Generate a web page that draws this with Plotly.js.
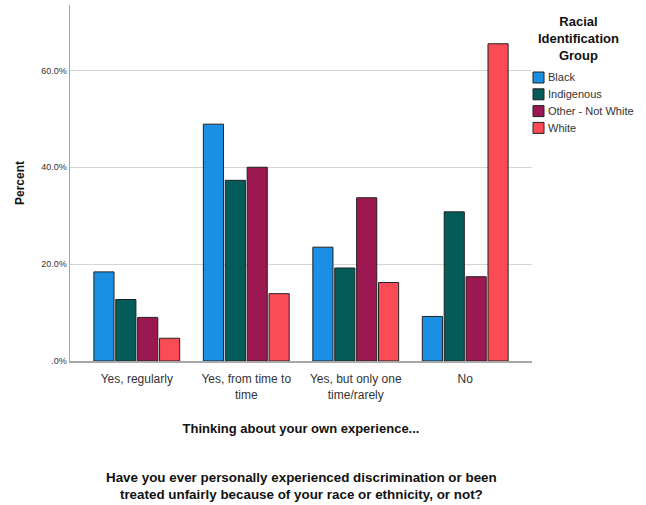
<!DOCTYPE html>
<html><head><meta charset="utf-8">
<script src="https://cdn.plot.ly/plotly-3.0.1.min.js"></script>
<style>html,body{margin:0;padding:0;background:#fff}#chart{width:646px;height:505px}</style>
</head><body><div id="chart"></div>
<script>
const categories = ["Yes, regularly", "Yes, from time to<br>time", "Yes, but only one<br>time/rarely", "No"];
const groups = ["Black", "Indigenous", "Other - Not White", "White"];
const black = [18.4, 48.9, 23.5, 9.2];
const indigenous = [12.7, 37.3, 19.2, 30.8];
const otherNotWhite = [9.0, 40.0, 33.7, 17.4];
const white = [4.7, 13.9, 16.2, 65.5];
const tickVals = [0, 20, 40, 60];
const tickLabels = [".0%", "20.0%", "40.0%", "60.0%"];
const colors = ["#1a8fe3", "#045c5a", "#9c1850", "#fb4c55"];
const series = [black, indigenous, otherNotWhite, white];

const traces = series.map((vals, i) => ({
  type: "bar", name: groups[i], x: categories, y: vals,
  marker: {color: colors[i], line: {color: "#222", width: 1}},
  hoverinfo: "skip", showlegend: false
}));

// manual legend (boxes + labels) placed right of the plot area
const W = 646, H = 505, mL = 70, mR = 114, mT = 5, mB = 144;
const pw = W - mL - mR, ph = H - mT - mB;
const px = x => (x - mL) / pw;
const py = y => (H - mB - y) / ph;
const legendTop = 72, legendStep = 16.8, boxW = 11, boxH = 11, boxX = 533;
const shapes = [], annotations = [];
groups.forEach((g, i) => {
  const y0 = legendTop + i * legendStep;
  shapes.push({type: "rect", xref: "paper", yref: "paper",
    x0: px(boxX), x1: px(boxX + boxW), y0: py(y0 + boxH), y1: py(y0),
    fillcolor: colors[i], line: {color: "#222", width: 1}});
  annotations.push({text: g, xref: "paper", yref: "paper",
    x: px(boxX + boxW + 2), y: py(y0 + boxH / 2), xanchor: "left", yanchor: "middle",
    showarrow: false, font: {size: 11, color: "#333"}});
});
annotations.push({text: "<b>Racial<br>Identification<br>Group</b>", xref: "paper", yref: "paper",
  x: px(578), y: py(12), xanchor: "center", yanchor: "top", showarrow: false,
  font: {size: 13, color: "#111"}});
annotations.push({text: "<b>Have you ever personally experienced discrimination or been<br>treated unfairly because of your race or ethnicity, or not?</b>",
  xref: "paper", yref: "paper", x: 0.5, y: -0.301, xanchor: "center", yanchor: "top",
  showarrow: false, font: {size: 13.4, color: "#111"}});

const layout = {
  width: W, height: H,
  margin: {l: mL, r: mR, t: mT, b: mB},
  paper_bgcolor: "#fff", plot_bgcolor: "#fff",
  font: {family: "Liberation Sans, Arial, sans-serif", color: "#333"},
  barmode: "group", bargap: 0.2, bargroupgap: 0.08,
  showlegend: false,
  xaxis: {
    range: [-0.61, 3.61], showgrid: false, zeroline: false,
    showline: true, linecolor: "#a8a8a8", linewidth: 1.5,
    ticks: "", tickfont: {size: 12, color: "#333"}, ticklabelstandoff: 6,
    title: {text: "<b>Thinking about your own experience...</b>", font: {size: 13, color: "#111"}, standoff: 23}
  },
  yaxis: {
    range: [0, 73.5], tickvals: tickVals, ticktext: tickLabels,
    tickfont: {size: 9, color: "#333"}, ticks: "",
    showgrid: true, gridcolor: "#d4d4d4", gridwidth: 1,
    zeroline: false, showline: true, linecolor: "#a8a8a8", linewidth: 1.5,
    title: {text: "<b>Percent</b>", font: {size: 12, color: "#111"}, standoff: 14}
  },
  shapes: shapes,
  annotations: annotations
};
Plotly.newPlot("chart", traces, layout, {displayModeBar: false, staticPlot: true});
</script></body></html>
